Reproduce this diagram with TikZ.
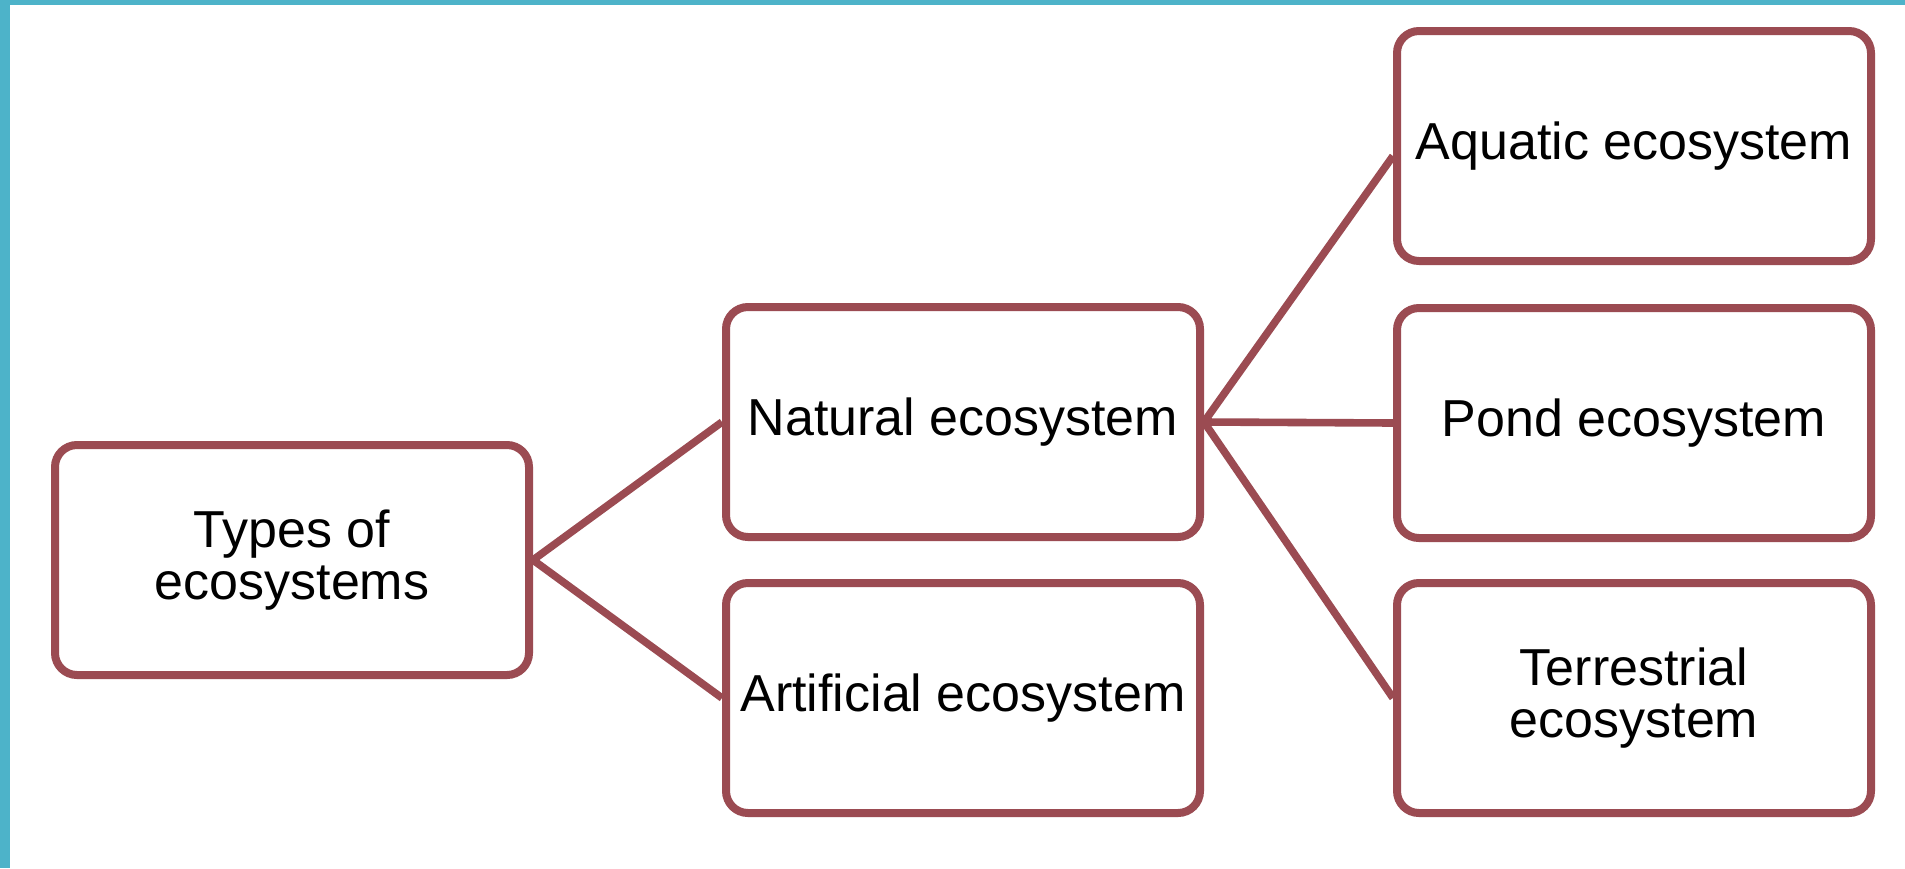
\documentclass[tikz,border=0pt]{standalone}
\usepackage{fontspec}
\setmainfont{Liberation Sans}
\definecolor{boxred}{RGB}{155,75,82}
\definecolor{frame}{RGB}{77,179,201}
\begin{document}
\begin{tikzpicture}[x=0.5pt,y=-0.5pt,
  ecobox/.style={draw=boxred, line width=4pt, rounded corners=11pt, fill=white,
    minimum width=237pt, minimum height=115pt, inner sep=0pt, align=center,
    font=\fontsize{26}{26}\selectfont},
  link/.style={draw=boxred, line width=3.8pt}]
\useasboundingbox (0,0) rectangle (1905,868);
\fill[white] (0,0) rectangle (1905,868);
\fill[frame] (0,0) rectangle (10,868);
\fill[frame] (0,0) rectangle (1905,5);

\node[ecobox] (types) at (292,560) {Types of\\ecosystems};
\node[ecobox] (nat) at (963,422) {Natural ecosystem};
\node[ecobox] (art) at (963,698) {Artificial ecosystem};
\node[ecobox] (aq) at (1634,146) {Aquatic ecosystem};
\node[ecobox] (pond) at (1634,423) {Pond ecosystem};
\node[ecobox] (ter) at (1634,698) {Terrestrial\\ecosystem};

\draw[link] (types.east) -- (nat.west);
\draw[link] (types.east) -- (art.west);
\draw[link] (nat.east) -- ([yshift=-5pt]aq.west);
\draw[link] (nat.east) -- (pond.west);
\draw[link] (nat.east) -- (ter.west);
\end{tikzpicture}
\end{document}
